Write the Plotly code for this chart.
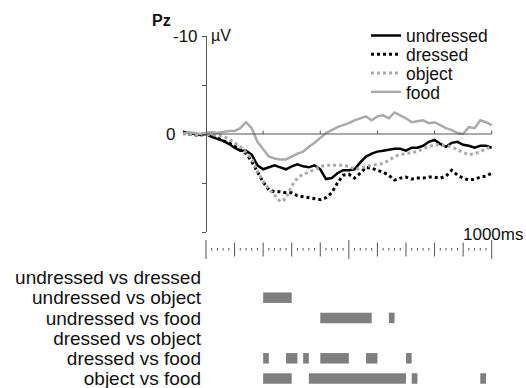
import numpy as np
import plotly.graph_objects as go

# ---------------- data ----------------
time_ms = [-80, -60, -40, -20, 0, 20, 40, 60, 80, 100, 120, 140, 160, 180, 200, 220, 240, 260, 280, 300,
           320, 340, 360, 380, 400, 420, 440, 460, 480, 500, 520, 540, 560, 580, 600, 620, 640, 660, 680, 700,
           720, 740, 760, 780, 800, 820, 840, 860, 880, 900, 920, 940, 960, 980, 1000]

undressed = [-0.2, -0.1, 0.0, 0.1, 0.0, 0.3, 0.5, 0.7, 1.0, 1.4, 1.7, 1.7, 2.1, 3.2, 3.6, 3.4, 3.2, 3.4, 3.6, 3.3,
             3.1, 3.3, 3.4, 3.2, 3.6, 4.6, 4.5, 4.0, 3.7, 3.7, 3.6, 2.9, 2.3, 2.0, 1.8, 1.7, 1.6, 1.5, 1.5, 1.7,
             1.4, 1.4, 1.2, 0.8, 0.6, 1.0, 1.3, 0.9, 0.8, 1.1, 1.2, 1.4, 1.2, 1.2, 1.4]

dressed = [-0.2, 0.0, 0.1, 0.1, 0.0, 0.2, 0.4, 0.7, 0.9, 1.2, 1.6, 2.0, 2.8, 3.8, 4.9, 5.7, 5.9, 5.9, 6.0, 6.0,
           6.3, 6.4, 6.5, 6.6, 6.7, 6.5, 6.0, 5.0, 4.2, 4.1, 4.5, 4.0, 3.4, 3.5, 3.7, 3.9, 4.2, 4.7, 4.5, 4.4,
           4.6, 4.5, 4.5, 4.4, 4.4, 4.5, 4.3, 3.7, 4.2, 4.5, 4.7, 4.6, 4.4, 4.3, 4.0]

object_ = [0.0, 0.0, 0.1, 0.0, 0.0, 0.1, 0.1, 0.2, 0.5, 0.9, 1.3, 1.9, 2.5, 3.8, 4.8, 5.6, 6.3, 6.9, 6.6, 5.3,
           4.5, 4.1, 3.9, 3.6, 3.3, 3.2, 3.2, 3.2, 3.2, 3.3, 3.6, 3.5, 3.3, 3.2, 3.1, 3.0, 2.7, 2.3, 2.1, 2.0,
           1.9, 1.8, 1.5, 1.3, 1.1, 1.1, 1.2, 1.3, 1.6, 1.9, 2.1, 2.0, 1.8, 1.5, 1.3]

food = [0.0, -0.2, -0.1, 0.0, -0.1, -0.2, -0.1, -0.2, -0.3, -0.3, -0.6, -1.2, -0.6, 0.8, 1.6, 2.3, 2.5, 2.6, 2.6, 2.3,
        2.0, 1.8, 1.3, 0.9, 0.4, -0.1, -0.4, -0.7, -0.9, -1.1, -1.4, -1.6, -1.8, -1.4, -1.8, -1.9, -1.6, -2.2, -1.9, -1.6,
        -1.2, -1.3, -1.4, -1.1, -1.2, -0.9, -0.6, -0.4, -0.1, 0.0, -0.7, -0.6, -1.4, -1.2, -0.9]

comparisons = ["undressed vs dressed", "undressed vs object", "undressed vs food",
               "dressed vs object", "dressed vs food", "object vs food"]
sig_starts = [[], [200], [400, 640], [], [200, 280, 340, 400, 560, 700], [200, 360, 720, 960]]
sig_ends = [[], [300], [580, 660], [], [220, 320, 360, 500, 600, 720], [300, 700, 740, 980]]

y_ticks = [-10, -5, 0, 5, 10]
y_labels = {-10: "-10", 0: "0"}

# ---------------- layout constants ----------------
W, H = 526, 388
X0_PX, PX_PER_MS = 206, 0.2857
xmin = -X0_PX / PX_PER_MS
xmax = (W - X0_PX) / PX_PER_MS
ypos = (0 - xmin) / (xmax - xmin)

ROW0_PX, ROW_PX = 277.5, 20.2
PANEL_TOP_PX = 236

def row_val(px):
    return (px - ROW0_PX) / ROW_PX

FONT = "Liberation Sans, Arial, Helvetica, sans-serif"
AXC = "#555555"
TXT = "#111111"
GRAY = "#aaaaaa"

fig = go.Figure()

series = [
    ("undressed", undressed, "#000000", "solid", 2.5),
    ("dressed", dressed, "#000000", "dot", 3),
    ("object", object_, GRAY, "dot", 3),
    ("food", food, GRAY, "solid", 2.5),
]
legend_names = ["legend", "legend2", "legend3", "legend4"]
for (name, vals, col, dash, w), lg in zip(series, legend_names):
    fig.add_trace(go.Scatter(x=time_ms, y=vals, mode="lines", name=name,
                             line=dict(color=col, dash=dash, width=w),
                             xaxis="x", yaxis="y", legend=lg))

# significance bars
for i, (c, st, en) in enumerate(zip(comparisons, sig_starts, sig_ends)):
    if st:
        fig.add_trace(go.Bar(y=[i] * len(st), x=[e - s for s, e in zip(st, en)], base=st,
                             orientation="h", width=0.52, marker=dict(color="#7f7f7f", line=dict(width=0)),
                             xaxis="x", yaxis="y2", showlegend=False, hoverinfo="skip"))

# ruler (time scale) on the lower panel
rx, ry = [], []
for t in np.arange(0, 1001, 20):
    if t % 500 == 0:
        p0, p1 = 240, 259
    elif t % 100 == 0:
        p0, p1 = 242.5, 256.5
    else:
        p0, p1 = 248, 250.5
    rx += [t, t, None]
    ry += [row_val(p0), row_val(p1), None]
fig.add_trace(go.Scatter(x=rx, y=ry, mode="lines", line=dict(color=AXC, width=1),
                         xaxis="x", yaxis="y2", showlegend=False, hoverinfo="skip"))

# zero line with upward ticks
zx, zy = [0, 1000, None], [0, 0, None]
for t in np.arange(200, 1001, 200):
    zx += [t, t, None]
    zy += [0, -0.35, None]
fig.add_trace(go.Scatter(x=zx, y=zy, mode="lines", line=dict(color=AXC, width=1),
                         xaxis="x", yaxis="y", showlegend=False, hoverinfo="skip"))

legend_y = [35.5, 54.3, 73.2, 92]
legends = {}
for lg, yp in zip(legend_names, legend_y):
    legends[lg] = dict(x=366 / W, y=1 - yp / H, xanchor="left", yanchor="middle",
                       bgcolor="rgba(0,0,0,0)", borderwidth=0,
                       font=dict(family=FONT, size=17.5, color=TXT),
                       itemwidth=30, tracegroupgap=0)

annotations = [
    dict(text="<b>Pz</b>", x=150 / W, y=1 - 20 / H, xref="paper", yref="paper",
         xanchor="left", yanchor="middle", showarrow=False,
         font=dict(family=FONT, size=16, color=TXT)),
    dict(text="\u00b5V", x=209 / W, y=1 - 35 / H, xref="paper", yref="paper",
         xanchor="left", yanchor="middle", showarrow=False,
         font=dict(family=FONT, size=16, color=TXT)),
    dict(text="1000ms", x=461 / W, y=1 - 234 / H, xref="paper", yref="paper",
         xanchor="left", yanchor="middle", showarrow=False,
         font=dict(family=FONT, size=17, color=TXT)),
]
# y tick labels ("-10" next to the axis, "0" left of the pre-stimulus segment)
label_right_px = {-10: 200, 0: 177}
for v, txt in y_labels.items():
    annotations.append(dict(text=txt, x=label_right_px[v] / W, y=v, xref="paper", yref="y",
                            xanchor="right", yanchor="middle", showarrow=False,
                            font=dict(family=FONT, size=17, color=TXT)))

fig.update_layout(
    width=W, height=H,
    margin=dict(l=0, r=0, t=0, b=0, autoexpand=False),
    paper_bgcolor="white", plot_bgcolor="white",
    showlegend=True,
    barmode="overlay",
    xaxis=dict(range=[xmin, xmax], visible=False, fixedrange=True),
    yaxis=dict(domain=[1 - 232 / H, 1 - 36 / H], range=[10, -10], anchor="free", position=ypos,
               showline=True, linecolor=AXC, linewidth=1, showgrid=False, zeroline=False,
               ticks="outside", ticklen=4, tickcolor=AXC, tickvals=y_ticks, showticklabels=False),
    yaxis2=dict(domain=[0, 1 - PANEL_TOP_PX / H], range=[row_val(H), row_val(PANEL_TOP_PX)],
                anchor="free", position=ypos, showline=False, showgrid=False, zeroline=False,
                ticks="", tickvals=list(range(len(comparisons))), ticktext=comparisons,
                ticklabelstandoff=5, ticklabeloverflow="allow",
                tickfont=dict(family=FONT, size=19, color=TXT)),
    annotations=annotations,
    **legends,
)

fig.write_html("out.html")
